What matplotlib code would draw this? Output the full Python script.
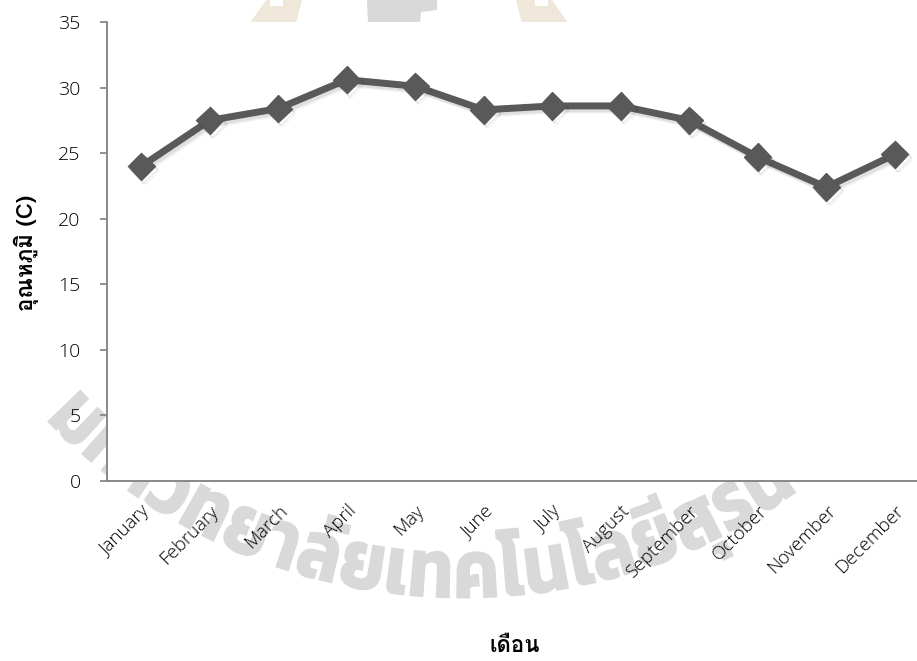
import numpy as np
import matplotlib
matplotlib.use("Agg")
import matplotlib.pyplot as plt
import matplotlib.patheffects as pe
from matplotlib import font_manager
from matplotlib.font_manager import FontProperties
from matplotlib.textpath import TextPath
from matplotlib.path import Path
from matplotlib.patches import PathPatch, Polygon
from matplotlib.transforms import IdentityTransform
from fontTools.ttLib import TTFont

months = ["January", "February", "March", "April", "May", "June", "July",
          "August", "September", "October", "November", "December"]
temps = [24.0, 27.5, 28.4, 30.6, 30.1, 28.3, 28.6, 28.6, 27.5, 24.7, 22.4, 24.9]
yticks = [0, 5, 10, 15, 20, 25, 30, 35]
ylabel = "อุณหภูมิ (C)"
xlabel = "เดือน"
seal_text = "มหาวิทยาลัยเทคโนโลยีสุรนารี"

W, H = 917, 661


def thai_families():
    found = []
    for f in font_manager.fontManager.ttflist:
        if f.name in found:
            continue
        try:
            cmap = TTFont(f.fname, fontNumber=0, lazy=True).getBestCmap()
        except Exception:
            continue
        if cmap and 0x0E2D in cmap and 0x0E34 in cmap:
            found.append(f.name)
    return found


def pick(avail, prefs):
    for name in prefs:
        if name in avail:
            return name
    return avail[0] if avail else None


avail = thai_families()
thai = pick(avail, ["Loma", "Noto Sans Thai Looped", "Waree", "Garuda"])
seal_font = pick(avail, ["Kanit", "Noto Sans Thai", "IBM Plex Sans Thai", "Loma"])
families = ([thai] if thai else []) + ["DejaVu Sans"]

fig = plt.figure(figsize=(W / 100, H / 100), dpi=100)
ax = fig.add_axes([107 / W, 180 / H, 822 / W, 459 / H], facecolor="white")


# pixel coords measured from the top-left corner -> display coords
def px(points):
    return [(x, H - y) for x, y in points]


# faint seal behind the chart; the white plot area covers most of it
seal_grey = "#d9d9d9"
seal_beige = "#efe7d9"
for pts, col in [
    ([(250, 23), (266, 0), (302, 0), (296, 23)], seal_beige),
    ([(367, 0), (437, 0), (437, 10), (421, 12), (420, 23), (368, 23)], seal_grey),
    ([(522, 23), (516, 0), (552, 0), (568, 23)], seal_beige),
]:
    fig.add_artist(Polygon(px(pts), closed=True, fc=col, ec="none",
                           transform=IdentityTransform(), zorder=-2))
for pts in [[(270, 0), (283, 0), (283, 6), (270, 6)],
            [(535, 0), (548, 0), (548, 6), (535, 6)]]:
    fig.add_artist(Polygon(px(pts), closed=True, fc="white", ec="none",
                           transform=IdentityTransform(), zorder=-1.5))

if seal_font:
    # bend the seal text round the lower arc of a circle
    fp = FontProperties(family=seal_font, weight="bold")
    tp = TextPath((0, 0), seal_text, size=1, prop=fp)
    h_n = TextPath((0, 0), "น", size=1, prop=fp).get_extents().height
    w_m = TextPath((0, 0), "ม", size=1, prop=fp).get_extents().width
    w_r = TextPath((0, 0), "ร", size=1, prop=fp).get_extents().width
    end_r = TextPath((0, 0), seal_text[:seal_text.index("ร") + 1], size=1,
                     prop=fp).get_extents().x1
    u_m, u_r = w_m / 2, end_r - w_r / 2
    cx, cy, r_mid = 463.0, 21.0, 554.0
    a_m, a_r = np.arctan2(75 - cx, 417 - cy), np.arctan2(732 - cx, 505 - cy)
    sx = (a_r - a_m) * r_mid / (u_r - u_m)
    sy = 47.0 / h_n
    r_base = r_mid + 0.5 * h_n * sy
    u, v = tp.vertices[:, 0], tp.vertices[:, 1]
    ang = a_m + (u - u_m) * sx / r_mid
    rad = r_base - v * sy
    verts = np.column_stack([cx + rad * np.sin(ang), H - (cy + rad * np.cos(ang))])
    fig.add_artist(PathPatch(Path(verts, tp.codes), fc=seal_grey, ec="none",
                             transform=IdentityTransform(), zorder=-1))

x = np.arange(len(months))
shadow = [pe.SimpleLineShadow(offset=(2.5, -3), shadow_color="black", alpha=0.05),
          pe.SimpleLineShadow(offset=(1.5, -2), shadow_color="black", alpha=0.08),
          pe.Normal()]
ax.plot(x, temps, color="#595959", lw=5, marker="D", ms=14,
        mec="#595959", mfc="#595959", path_effects=shadow, zorder=3,
        clip_on=False)

ax.set_xlim(-0.5, 11.5)
ax.set_ylim(0, 35)
ax.set_yticks(yticks)
ax.set_xticks(x)
ax.set_xticklabels(months, rotation=45, ha="right", va="top",
                   rotation_mode="anchor", fontsize=13.5, family="Open Sans",
                   fontweight="light", color="black")
for lab in ax.get_yticklabels():
    lab.set_fontsize(14)
    lab.set_family("Open Sans")
    lab.set_fontweight("light")
    lab.set_color("black")
ax.tick_params(axis="x", length=0, pad=15)
ax.tick_params(axis="y", length=5, width=1.3, color="#888888", pad=14)

for s in ["top", "right"]:
    ax.spines[s].set_visible(False)
for s in ["left", "bottom"]:
    ax.spines[s].set_color("#888888")
    ax.spines[s].set_linewidth(1.4)

fig.text(26 / W, 1 - 253 / H, ylabel, rotation=90, ha="center",
         va="center", fontsize=16, fontweight="bold", family=families)
fig.text(515 / W, 1 - 646 / H, xlabel, ha="center", va="center",
         fontsize=16, fontweight="bold", family=families)

fig.savefig("out.png", dpi=100)
